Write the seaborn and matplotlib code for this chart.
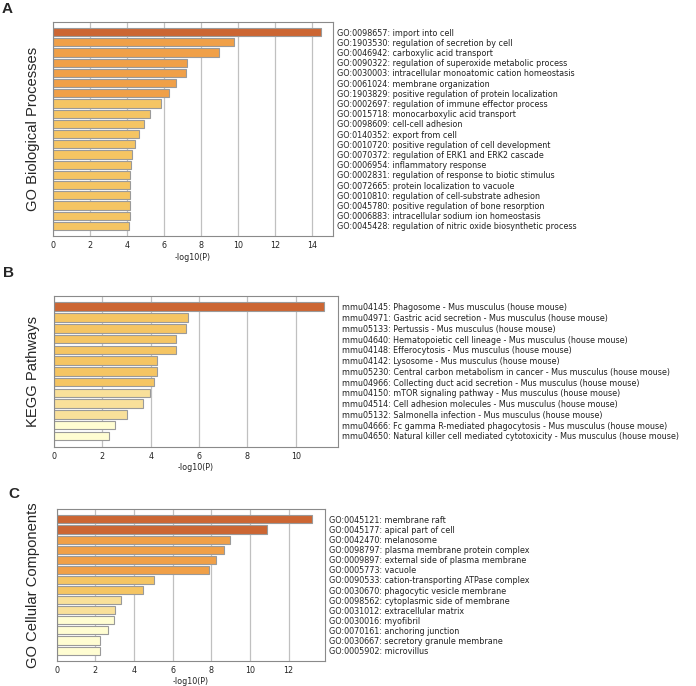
"""Enrichment bar charts (GO BP, KEGG, GO CC) recreated with seaborn."""

import matplotlib
matplotlib.use("Agg")
import matplotlib.pyplot as plt
import pandas as pd
import seaborn as sns

# Data: term labels and -log10(P) values
bp_terms = [
    "GO:0098657: import into cell",
    "GO:1903530: regulation of secretion by cell",
    "GO:0046942: carboxylic acid transport",
    "GO:0090322: regulation of superoxide metabolic process",
    "GO:0030003: intracellular monoatomic cation homeostasis",
    "GO:0061024: membrane organization",
    "GO:1903829: positive regulation of protein localization",
    "GO:0002697: regulation of immune effector process",
    "GO:0015718: monocarboxylic acid transport",
    "GO:0098609: cell-cell adhesion",
    "GO:0140352: export from cell",
    "GO:0010720: positive regulation of cell development",
    "GO:0070372: regulation of ERK1 and ERK2 cascade",
    "GO:0006954: inflammatory response",
    "GO:0002831: regulation of response to biotic stimulus",
    "GO:0072665: protein localization to vacuole",
    "GO:0010810: regulation of cell-substrate adhesion",
    "GO:0045780: positive regulation of bone resorption",
    "GO:0006883: intracellular sodium ion homeostasis",
    "GO:0045428: regulation of nitric oxide biosynthetic process",
]
bp_values = [14.45, 9.79, 8.96, 7.21, 7.16, 6.65, 6.24, 5.84, 5.24, 4.92,
             4.62, 4.43, 4.27, 4.22, 4.16, 4.16, 4.16, 4.13, 4.13, 4.11]

kegg_terms = [
    "mmu04145: Phagosome - Mus musculus (house mouse)",
    "mmu04971: Gastric acid secretion - Mus musculus (house mouse)",
    "mmu05133: Pertussis - Mus musculus (house mouse)",
    "mmu04640: Hematopoietic cell lineage - Mus musculus (house mouse)",
    "mmu04148: Efferocytosis - Mus musculus (house mouse)",
    "mmu04142: Lysosome - Mus musculus (house mouse)",
    "mmu05230: Central carbon metabolism in cancer - Mus musculus (house mouse)",
    "mmu04966: Collecting duct acid secretion - Mus musculus (house mouse)",
    "mmu04150: mTOR signaling pathway - Mus musculus (house mouse)",
    "mmu04514: Cell adhesion molecules - Mus musculus (house mouse)",
    "mmu05132: Salmonella infection - Mus musculus (house mouse)",
    "mmu04666: Fc gamma R-mediated phagocytosis - Mus musculus (house mouse)",
    "mmu04650: Natural killer cell mediated cytotoxicity - Mus musculus (house mouse)",
]
kegg_values = [11.18, 5.53, 5.47, 5.05, 5.05, 4.26, 4.26, 4.15, 3.97, 3.70,
               3.02, 2.54, 2.28]

cc_terms = [
    "GO:0045121: membrane raft",
    "GO:0045177: apical part of cell",
    "GO:0042470: melanosome",
    "GO:0098797: plasma membrane protein complex",
    "GO:0009897: external side of plasma membrane",
    "GO:0005773: vacuole",
    "GO:0090533: cation-transporting ATPase complex",
    "GO:0030670: phagocytic vesicle membrane",
    "GO:0098562: cytoplasmic side of membrane",
    "GO:0031012: extracellular matrix",
    "GO:0030016: myofibril",
    "GO:0070161: anchoring junction",
    "GO:0030667: secretory granule membrane",
    "GO:0005902: microvillus",
]
cc_values = [13.22, 10.90, 8.97, 8.64, 8.26, 7.90, 5.02, 4.45, 3.34, 3.03,
             2.95, 2.67, 2.26, 2.22]

# Colour bins by -log10(P)
bin_edges = [0, 3, 4, 6, 10, 100]
bin_colors = ["#FFFDD2", "#F9E09A", "#F5C563", "#F0A048", "#CC6633"]

panels = [
    # letter, title, terms, values, axes rect (px: left, top, right, bottom), xmax
    ("A", "GO Biological Processes", bp_terms, bp_values, (53.3, 22, 333, 236), 15.12),
    ("B", "KEGG Pathways", kegg_terms, kegg_values, (54, 296, 338.3, 446.7), 11.76),
    ("C", "GO Cellular Components", cc_terms, cc_values, (56.7, 509.3, 325, 660.7), 13.88),
]
letter_pos = {"A": (2, 2), "B": (3, 266), "C": (8, 487)}

W, H = 696, 686
sns.set_style("white")
plt.rcParams["font.family"] = ["DejaVu Sans"]
fig = plt.figure(figsize=(W / 100, H / 100), dpi=100)

for letter, title, terms, values, (l, t, r, b), xmax in panels:
    ax = fig.add_axes([l / W, (H - b) / H, (r - l) / W, (b - t) / H])
    df = pd.DataFrame({"term": terms, "logp": values})
    df["level"] = pd.cut(df["logp"], bins=bin_edges, labels=False)
    sns.barplot(
        data=df, x="logp", y="term", hue="level",
        palette=dict(enumerate(bin_colors)), dodge=False, legend=False,
        saturation=1, width=0.8, edgecolor="#9a9a9a", linewidth=0.8, ax=ax,
    )
    n = len(terms)
    ax.set_xlim(0, xmax)
    ax.set_ylim(n, -1)
    ax.set_axisbelow(True)
    ax.xaxis.grid(True, color="#c0c0c0", linewidth=0.9)
    ax.yaxis.grid(False)
    ax.yaxis.tick_right()
    ax.tick_params(axis="y", length=0, pad=3, labelsize=5.8, labelcolor="#222222")
    ax.tick_params(axis="x", length=2, width=0.6, color="#888888", pad=1.5,
                   labelsize=5.8, labelcolor="#222222")
    for s in ax.spines.values():
        s.set_visible(True)
        s.set_color("#8a8a8a")
        s.set_linewidth(0.8)
    ax.set_ylabel("")
    ax.set_xlabel("-log10(P)", fontsize=5.8, color="#222222", labelpad=2)

    fig.text(33 / W, 1 - ((t + b) / 2) / H, title, rotation=90, ha="center",
             va="center", fontsize=10.6, family="Liberation Sans")
    lx, ly = letter_pos[letter]
    fig.text(lx / W, 1 - ly / H, letter, ha="left", va="top", fontsize=11,
             fontweight="bold", family="Liberation Sans")

fig.savefig("out.png", dpi=100)
